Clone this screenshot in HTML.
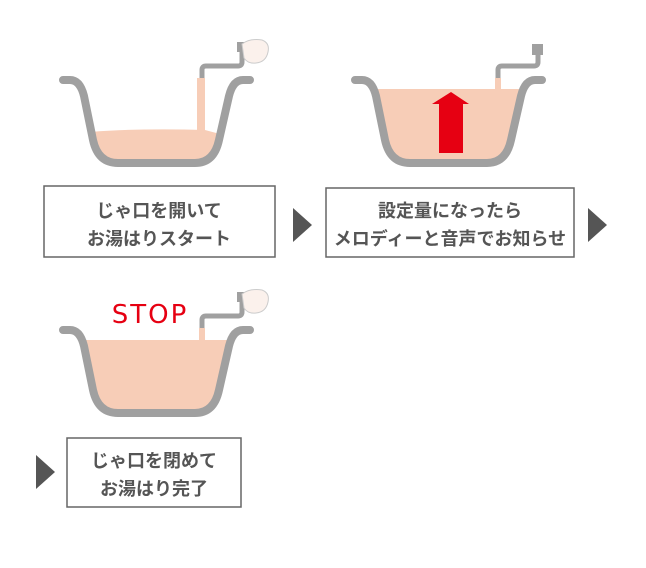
<!DOCTYPE html>
<html><head><meta charset="utf-8"><style>
body{margin:0;background:#fff;width:646px;height:568px;overflow:hidden}
svg{display:block}
text{font-family:"Liberation Sans","Noto Sans CJK JP",sans-serif;font-weight:bold;fill:#555;font-size:18px}
</style></head><body>
<svg width="646" height="568" viewBox="0 0 646 568">
<defs>
<g id="tub">
<path d="M63,80 L70,80 Q80,80 84,96 L93,140 Q98,163 118,163 L195,163 Q214,163 219,140 L229,96 Q233,80 243,80 L250,80" fill="none" stroke="#a0a0a0" stroke-width="8" stroke-linecap="round" stroke-linejoin="round"/>
</g>
<g id="hand">
<path d="M242,44 Q250,38 262,40 Q270,43 268,52 Q266,62 256,63 Q248,64 244,58 Z" fill="#fbf1ec" stroke="#ccc" stroke-width="1"/>
</g>
</defs>
<path d="M90,132 Q140,128 205,130 L220,134 L216,148 Q212,161 195,161 L118,161 Q99,161 96,145 Z" fill="#f7cdb7"/>
<rect x="197" y="78" width="8" height="54" fill="#f7cdb7"/>
<use href="#tub"/>
<path d="M202,78 L202,70 Q202,66 206,66 L238,66 Q242,66 242,62 L242,50" fill="none" stroke="#a0a0a0" stroke-width="5"/>
<rect x="237" y="42" width="10" height="10" fill="#a0a0a0"/>
<use href="#hand"/>
<g transform="translate(292,0)">
<path d="M80,89 L233,89 L219,140 Q214,161 195,161 L118,161 Q98,161 93,140 Z" fill="#f7cdb7"/>
<rect x="203" y="78" width="6" height="12" fill="#f7cdb7"/>
<use href="#tub"/>
<path d="M206,78 L206,70 Q206,66 210,66 L242,66 Q246,66 246,62 L246,50" fill="none" stroke="#a0a0a0" stroke-width="5"/>
<rect x="240" y="44" width="11" height="11" fill="#a0a0a0"/>
</g>
<polygon points="451,92 469,104 463,104 463,153 439,153 439,104 432,104" fill="#e60012"/>
<g transform="translate(0,250)">
<path d="M80,90 L233,90 L219,140 Q214,161 195,161 L118,161 Q98,161 93,140 Z" fill="#f7cdb7"/>
<rect x="199" y="78" width="6" height="12" fill="#f7cdb7"/>
<use href="#tub"/>
<path d="M202,78 L202,70 Q202,66 206,66 L238,66 Q242,66 242,62 L242,50" fill="none" stroke="#a0a0a0" stroke-width="5"/>
<rect x="237" y="42" width="10" height="10" fill="#a0a0a0"/>
<use href="#hand"/>
</g>
<text x="150" y="323" text-anchor="middle" style="fill:#e60012;font-size:26px;font-weight:normal;letter-spacing:2px;font-family:'DejaVu Sans',sans-serif">STOP</text>
<rect x="44" y="186" width="231" height="71" fill="#fff" stroke="#666" stroke-width="1.5"/>
<text x="159" y="217" text-anchor="middle">じゃ口を開いて</text>
<text x="159" y="245" text-anchor="middle">お湯はりスタート</text>
<polygon points="293,208 312,225 293,242" fill="#555"/>
<rect x="326" y="188" width="248" height="69" fill="#fff" stroke="#666" stroke-width="1.5"/>
<text x="450" y="217" text-anchor="middle">設定量になったら</text>
<text x="450" y="245" text-anchor="middle">メロディーと音声でお知らせ</text>
<polygon points="588,208 607,225 588,242" fill="#555"/>
<polygon points="36,455 55,472 36,489" fill="#555"/>
<rect x="67" y="438" width="174" height="69" fill="#fff" stroke="#666" stroke-width="1.5"/>
<text x="154" y="467" text-anchor="middle">じゃ口を閉めて</text>
<text x="154" y="495" text-anchor="middle">お湯はり完了</text>
</svg>
</body></html>
